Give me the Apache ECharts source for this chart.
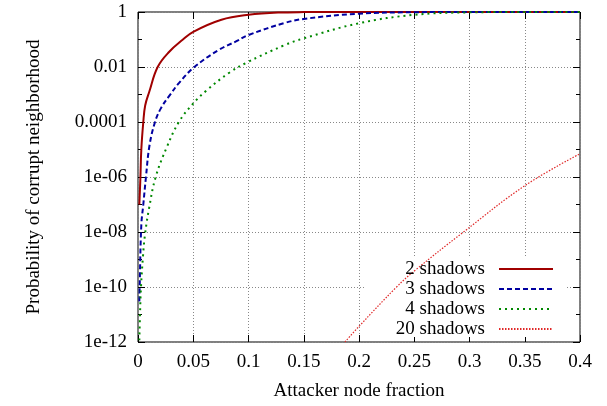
<!DOCTYPE html>
<html>
<head>
<meta charset="utf-8">
<script src="https://cdn.jsdelivr.net/npm/echarts@6/dist/echarts.min.js"></script>
<style>
html,body{margin:0;padding:0;background:#fff;}
#chart{width:607px;height:406px;}
</style>
</head>
<body>
<div id="chart"></div>
<script>
// ---- data ----
var seriesNames = ['2 shadows', '3 shadows', '4 shadows', '20 shadows'];
var xTickLabels = ['0', '0.05', '0.1', '0.15', '0.2', '0.25', '0.3', '0.35', '0.4'];
var yTickLabels = ['1e-12', '1e-10', '1e-08', '1e-06', '0.0001', '0.01', '1'];

var shadows2 = [
  [0.0012, 1e-7], [0.0022, 1e-6], [0.0030, 1e-5], [0.0048, 1e-4], [0.0065, 4e-4],
  [0.0102, 1.26e-3], [0.0178, 0.01], [0.0283, 0.036], [0.0404, 0.098], [0.05, 0.19],
  [0.0755, 0.52], [0.1, 0.79], [0.127, 0.955], [0.15, 0.99], [0.2, 1], [0.25, 1],
  [0.3, 1], [0.35, 1], [0.4, 1]
];
var shadows3 = [
  [0.0012, 3e-11], [0.0015, 1e-10], [0.0030, 1.8e-8], [0.0048, 1e-7], [0.0072, 1e-6],
  [0.0104, 1.4e-5], [0.0154, 1e-4], [0.0208, 3.2e-4], [0.0283, 8.9e-4], [0.0374, 2.7e-3],
  [0.051, 0.01], [0.0736, 0.043], [0.0887, 0.085], [0.1, 0.145], [0.1328, 0.4],
  [0.15, 0.56], [0.2, 0.87], [0.25, 0.98], [0.3, 1], [0.35, 1], [0.4, 1]
];
var shadows4 = [
  [0.0012, 1.15e-12], [0.0018, 1e-11], [0.0027, 1e-10], [0.0045, 1.3e-9], [0.0063, 7.9e-9],
  [0.010, 7.2e-8], [0.016, 1e-6], [0.026, 1.2e-5], [0.037, 1e-4], [0.0495, 4.5e-4],
  [0.0615, 1.35e-3], [0.0826, 6.2e-3], [0.0977, 0.014], [0.1328, 0.063], [0.15, 0.11],
  [0.2, 0.39], [0.25, 0.79], [0.3, 0.97], [0.35, 1], [0.4, 1]
];
var shadows20 = [
  [0.1873, 1e-12], [0.2, 3.7e-12], [0.234, 1e-10], [0.25, 3.8e-10], [0.2946, 1e-8],
  [0.35, 4.8e-7], [0.4, 7e-6]
];

// ---- chart ----
var FONT = 'Liberation Serif';
var FS = 19;
var chart = echarts.init(document.getElementById('chart'), null, {renderer: 'canvas'});

function yFmt(v) {
  var e = Math.round(Math.log(v) / Math.LN10);
  var i = (e + 12) / 2;
  return (i === Math.round(i) && yTickLabels[i] !== undefined) ? yTickLabels[i] : '';
}
function xFmt(v) {
  var i = Math.round(v / 0.05);
  return xTickLabels[i] !== undefined ? xTickLabels[i] : '';
}

var gridLine = {show: true, lineStyle: {color: '#888', width: 1, type: [1, 2]}};

function yAx(pos, interval, len, labels, grid) {
  return {
    type: 'log', logBase: 10, min: 1e-12, max: 1, interval: interval, position: pos,
    axisLine: {show: false},
    axisTick: {show: true, inside: true, length: len, lineStyle: {color: '#000', width: 1}},
    axisLabel: {show: labels, formatter: yFmt, fontFamily: FONT, fontSize: FS, color: '#000', margin: 11},
    splitLine: grid ? gridLine : {show: false},
    minorTick: {show: false}, minorSplitLine: {show: false}
  };
}

var yAxes = [
  yAx('left', 2, 7, true, true),
  yAx('left', 1, 4, false, false),
  yAx('right', 2, 7, false, false),
  yAx('right', 1, 4, false, false)
];
yAxes[0].name = 'Probability of corrupt neighborhood';
yAxes[0].nameLocation = 'middle';
yAxes[0].nameGap = 94;
yAxes[0].nameTextStyle = {fontFamily: FONT, fontSize: FS, color: '#000'};

var xAxes = [
  {
    type: 'value', min: 0, max: 0.4, interval: 0.05, position: 'bottom',
    name: 'Attacker node fraction', nameLocation: 'middle', nameGap: 40,
    nameTextStyle: {fontFamily: FONT, fontSize: FS, color: '#000'},
    axisLine: {show: false},
    axisTick: {show: true, inside: true, length: 7, lineStyle: {color: '#000'}},
    axisLabel: {formatter: xFmt, fontFamily: FONT, fontSize: FS, color: '#000', margin: 11},
    splitLine: gridLine
  },
  {
    type: 'value', min: 0, max: 0.4, interval: 0.05, position: 'top',
    axisLine: {show: false},
    axisTick: {show: true, inside: true, length: 7, lineStyle: {color: '#000'}},
    axisLabel: {show: false}, splitLine: {show: false}
  }
];

var styles = [
  {color: '#a00000', width: 2, type: 'solid'},
  {color: '#0000a0', width: 2, type: [5, 3]},
  {color: '#008800', width: 2, type: [2, 4]},
  {color: '#e02828', width: 1.2, type: [1.5, 1.5]}
];
var datas = [shadows2, shadows3, shadows4, shadows20];

var series = datas.map(function (d, i) {
  return {
    name: seriesNames[i], type: 'line', data: d, xAxisIndex: 0, yAxisIndex: 0,
    showSymbol: false, symbol: 'none', smooth: 0.4,
    lineStyle: styles[i], itemStyle: {color: styles[i].color}, z: 3,
    animation: false
  };
});

var legendRows = [269, 289, 309, 329];
var legends = seriesNames.map(function (n, i) {
  return {
    data: [n], orient: 'vertical', align: 'right', right: 53, top: legendRows[i] - 10,
    padding: 0, itemWidth: 54, itemHeight: 20, selectedMode: false,
    itemStyle: {opacity: 0},
    textStyle: {fontFamily: FONT, fontSize: FS, color: '#000', lineHeight: 20, padding: [0, 9, 0, 0]}
  };
});

chart.setOption({
  animation: false,
  backgroundColor: '#fff',
  grid: {left: 138, top: 12, width: 442, height: 333, show: true, borderColor: '#000', borderWidth: 1, backgroundColor: 'transparent'},
  xAxis: xAxes,
  yAxis: yAxes,
  legend: legends,
  graphic: [{
    type: 'rect', z: 1, silent: true,
    shape: {x: 366, y: 258, width: 199, height: 79},
    style: {fill: '#fff'}
  }],
  series: series
});
</script>
</body>
</html>
